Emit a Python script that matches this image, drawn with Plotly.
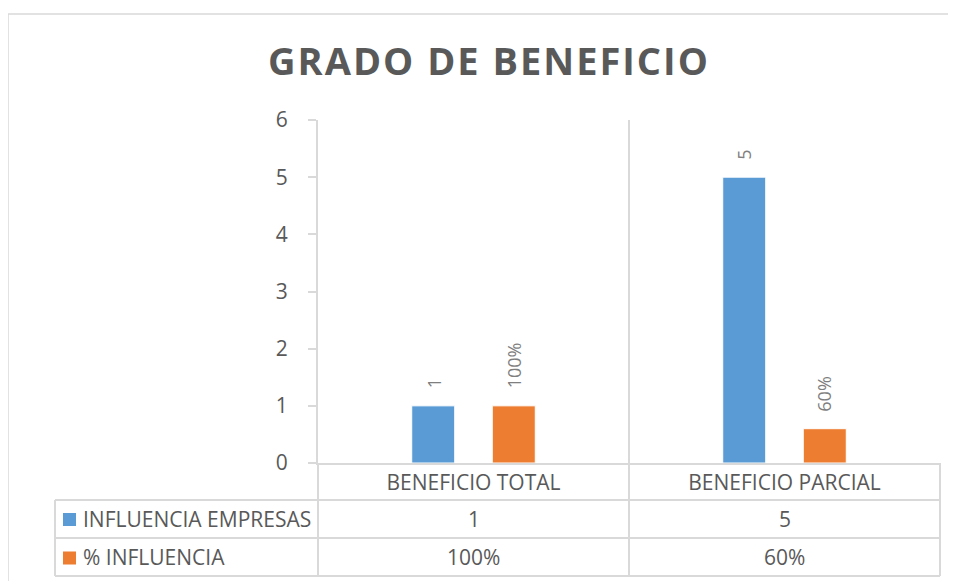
import plotly.graph_objects as go

# data
categories = ["BENEFICIO TOTAL", "BENEFICIO PARCIAL"]
series_names = ["INFLUENCIA EMPRESAS", "% INFLUENCIA"]
empresas = [1, 5]
pct_influencia = [1.0, 0.6]
empresas_labels = ["1", "5"]
pct_labels = ["100%", "60%"]
y_ticks = [0, 1, 2, 3, 4, 5, 6]

BLUE = "#5B9BD5"
ORANGE = "#ED7D31"
GRAY_TXT = "#595959"
LINE = "#D9D9D9"
FONT = "Open Sans"

OFF = 8  # the page body adds 8px margin; lay out in page pixels and subtract it
W, H = 956 - OFF, 581 - OFF
PX0, PX1, PY0, PY1 = 318 - OFF, 940 - OFF, 120 - OFF, 463 - OFF  # plot area


def px(x):
    return (x - OFF - PX0) / (PX1 - PX0)


def py(y):
    return (PY1 - (y - OFF)) / (PY1 - PY0)


fig = go.Figure()
fig.add_trace(go.Bar(x=categories, y=empresas, name=series_names[0],
                     marker=dict(color=BLUE, line=dict(color="white", width=1))))
fig.add_trace(go.Bar(x=categories, y=pct_influencia, name=series_names[1],
                     marker=dict(color=ORANGE, line=dict(color="white", width=1))))

# rotated data labels above bars
for vals, labels, shift in [(empresas, empresas_labels, -40), (pct_influencia, pct_labels, 40)]:
    for cat, v, lab in zip(categories, vals, labels):
        fig.add_annotation(x=cat, y=v, xref="x", yref="y", text=lab, showarrow=False,
                           textangle=-90, xshift=shift, yshift=15, yanchor="bottom",
                           font=dict(family=FONT, size=18, color="#7F7F7F"))

shapes = []
# outer chart border
shapes.append(dict(type="rect", xref="paper", yref="paper", x0=px(8), x1=px(970),
                   y0=py(600), y1=py(14), line=dict(color=LINE, width=1.5)))
# data table lines
for yy in [500, 538, 576]:
    shapes.append(dict(type="line", xref="paper", yref="paper", x0=px(55), x1=px(940),
                       y0=py(yy), y1=py(yy), line=dict(color=LINE, width=2)))
shapes.append(dict(type="line", xref="paper", yref="paper", x0=px(55), x1=px(55),
                   y0=py(500), y1=py(576), line=dict(color=LINE, width=2)))
for xx in [318, 629, 940]:
    shapes.append(dict(type="line", xref="paper", yref="paper", x0=px(xx), x1=px(xx),
                       y0=py(463), y1=py(576), line=dict(color=LINE, width=2)))
# legend keys
for yc, col in [(519.5, BLUE), (558, ORANGE)]:
    shapes.append(dict(type="rect", xref="paper", yref="paper", x0=px(63), x1=px(76),
                       y0=py(yc + 6.5), y1=py(yc - 6.5), fillcolor=col, line=dict(width=0)))

# table text
for row_y, name, labels in [(519, series_names[0], empresas_labels), (557, series_names[1], pct_labels)]:
    fig.add_annotation(x=px(81), y=py(row_y), xref="paper", yref="paper", text=name,
                       showarrow=False, xanchor="left", yanchor="middle",
                       font=dict(family=FONT, size=21, color=GRAY_TXT))
    for cat, lab in zip(categories, labels):
        fig.add_annotation(x=cat, y=py(row_y), xref="x", yref="paper", text=lab,
                           showarrow=False, xanchor="center", yanchor="middle",
                           font=dict(family=FONT, size=21, color=GRAY_TXT))

fig.update_layout(
    width=W, height=H,
    margin=dict(l=PX0, r=W - PX1, t=PY0, b=H - PY1),
    paper_bgcolor="white", plot_bgcolor="white",
    barmode="group", bargap=0.482, bargroupgap=0.466,
    showlegend=False,
    shapes=shapes,
    title=dict(text='<span style="letter-spacing:2px"><b>GRADO DE BENEFICIO</b></span>',
               x=(489 - OFF) / W, xanchor="center", y=1 - (62 - OFF) / H, yanchor="middle",
               font=dict(family=FONT, size=38, color=GRAY_TXT)),
)
fig.update_xaxes(range=[-0.5, 1.5], tickson="boundaries", showgrid=True, gridcolor=LINE,
                 gridwidth=2, showline=True, linecolor=LINE, linewidth=2, ticks="",
                 tickfont=dict(family=FONT, size=21, color=GRAY_TXT), ticklabelstandoff=0)
fig.update_yaxes(range=[0, 6], tickvals=y_ticks, showgrid=False, zeroline=False,
                 showline=True, linecolor=LINE, linewidth=2, ticks="outside", ticklen=8,
                 tickcolor=LINE, tickwidth=2, ticklabelstandoff=16,
                 tickfont=dict(family=FONT, size=21, color=GRAY_TXT))

fig.write_html("out.html")
